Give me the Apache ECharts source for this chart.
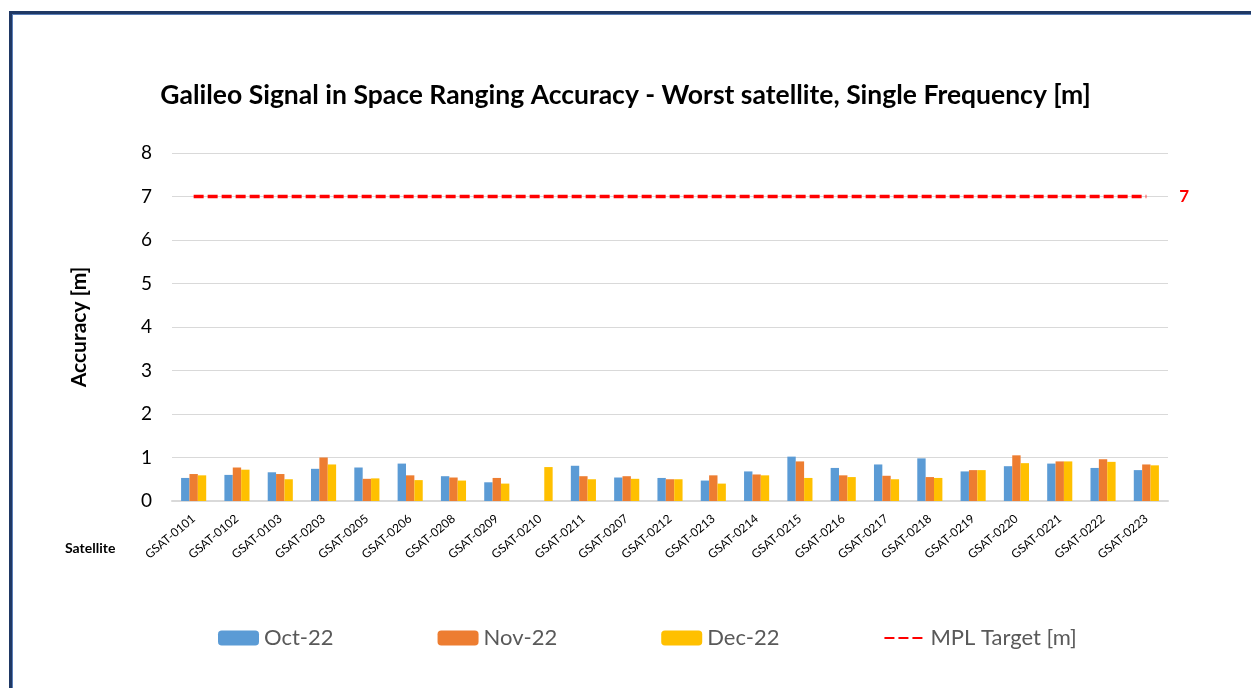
<!DOCTYPE html>
<html>
<head>
    <meta charset="utf-8">
    <title>Galileo SiS Ranging Accuracy</title>
    <style>
        html, body { margin: 0; padding: 0; background: #fff; }
        #frame {
            position: absolute; left: 9px; top: 11px; width: 1260px; height: 700px;
            border-left: 3px solid #1f3864; border-top: 3px solid #1f3864;
            box-shadow: inset 1px 1px 0 #5b7fb8;
        }
        #main { position: absolute; left: 0; top: 0; width: 1251px; height: 688px; }
    </style>
</head>
<body>
<div id="frame"></div>
<div id="main"></div>
<script src="https://cdn.jsdelivr.net/npm/echarts@6/dist/echarts.min.js"></script>
<script>
    var satellites = ['GSAT-0101', 'GSAT-0102', 'GSAT-0103', 'GSAT-0203', 'GSAT-0205', 'GSAT-0206',
        'GSAT-0208', 'GSAT-0209', 'GSAT-0210', 'GSAT-0211', 'GSAT-0207', 'GSAT-0212', 'GSAT-0213',
        'GSAT-0214', 'GSAT-0215', 'GSAT-0216', 'GSAT-0217', 'GSAT-0218', 'GSAT-0219', 'GSAT-0220',
        'GSAT-0221', 'GSAT-0222', 'GSAT-0223'];
    var oct22 = [0.53, 0.60, 0.66, 0.74, 0.77, 0.86, 0.57, 0.43, null, 0.81, 0.54, 0.53, 0.47,
        0.68, 1.02, 0.76, 0.84, 0.98, 0.68, 0.80, 0.86, 0.76, 0.71];
    var nov22 = [0.62, 0.77, 0.62, 1.00, 0.51, 0.59, 0.54, 0.53, null, 0.57, 0.57, 0.50, 0.59,
        0.61, 0.91, 0.59, 0.58, 0.55, 0.71, 1.05, 0.91, 0.96, 0.84];
    var dec22 = [0.59, 0.72, 0.50, 0.84, 0.52, 0.48, 0.47, 0.40, 0.78, 0.50, 0.51, 0.50, 0.40,
        0.59, 0.53, 0.55, 0.50, 0.53, 0.71, 0.87, 0.91, 0.90, 0.82];
    var mplTarget = 7;
    var yTicks = [0, 1, 2, 3, 4, 5, 6, 7, 8];

    var font = 'Lato, "Liberation Sans", sans-serif';
    var targetData = satellites.map(function () { return mplTarget; });

    var chart = echarts.init(document.getElementById('main'));
    var option = {
        backgroundColor: 'transparent',
        animation: false,
        textStyle: { fontFamily: font },
        title: {
            text: 'Galileo Signal in Space Ranging Accuracy - Worst satellite, Single Frequency [m]',
            left: 'center',
            top: 77,
            textStyle: { fontFamily: font, fontSize: 26.5, fontWeight: 'bold', color: '#000' }
        },
        legend: {
            left: 213,
            top: 622,
            itemGap: 104,
            itemWidth: 41,
            itemHeight: 15,
            textStyle: { fontFamily: font, fontSize: 22, color: '#595959' },
            data: ['Oct-22', 'Nov-22', 'Dec-22',
                { name: 'MPL Target [m]', itemStyle: { opacity: 0 } }]
        },
        grid: { left: 172, right: 83, top: 153, bottom: 187 },
        xAxis: {
            type: 'category',
            data: satellites,
            axisTick: { show: false },
            axisLine: { lineStyle: { color: '#d9d9d9', width: 2 } },
            axisLabel: { rotate: 40, fontSize: 12, color: '#000', margin: 16, interval: 0 }
        },
        yAxis: {
            type: 'value',
            min: yTicks[0],
            max: yTicks[yTicks.length - 1],
            interval: 1,
            name: 'Accuracy [m]',
            nameLocation: 'middle',
            nameGap: 82,
            nameTextStyle: { fontSize: 21, fontWeight: 'bold', color: '#000' },
            axisLabel: { fontSize: 19, color: '#000', margin: 20 },
            splitLine: { lineStyle: { color: '#d9d9d9' } }
        },
        graphic: [{
            type: 'text', left: 65, top: 541,
            style: { text: 'Satellite', font: 'bold 14px ' + font, fill: '#000' }
        }],
        series: [
            { name: 'Oct-22', type: 'bar', data: oct22, barGap: '0%', barCategoryGap: '42%',
              itemStyle: { color: '#5b9bd5' } },
            { name: 'Nov-22', type: 'bar', data: nov22, itemStyle: { color: '#ed7d31' } },
            { name: 'Dec-22', type: 'bar', data: dec22, itemStyle: { color: '#ffc000' } },
            {
                name: 'MPL Target [m]', type: 'line', data: targetData, symbol: 'none',
                lineStyle: { color: '#ff0000', width: 3.5, type: [10, 4] },
                itemStyle: { color: '#ff0000' },
                endLabel: {
                    show: true, color: '#ff0000', fontSize: 17, fontWeight: 'bold',
                    distance: 33, formatter: '{c}'
                }
            }
        ]
    };
    chart.setOption(option);
</script>
</body>
</html>
